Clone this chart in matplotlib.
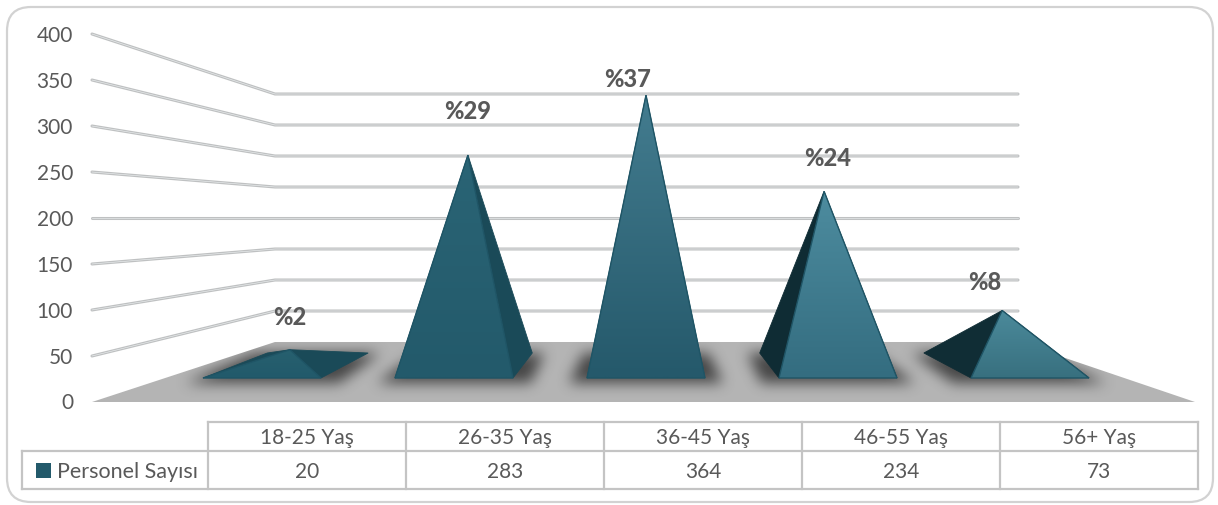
import numpy as np
import matplotlib
matplotlib.use('Agg')
import matplotlib.pyplot as plt
from matplotlib.colors import to_rgb
from matplotlib.patches import FancyBboxPatch, Polygon, Rectangle
from matplotlib.path import Path

# Chart data
categories = ['18-25 Yaş', '26-35 Yaş', '36-45 Yaş', '46-55 Yaş', '56+ Yaş']
personel = [20, 283, 364, 234, 73]
percent_labels = ['%2', '%29', '%37', '%24', '%8']
y_ticks = [0, 50, 100, 150, 200, 250, 300, 350, 400]
series_name = 'Personel Sayısı'

# Layout, in pixels of the 1218x506 picture
W, H = 1218, 506
center_x = 646
front_y = lambda v: 403 - v * 0.92      # left end of the gridlines
back_y = lambda v: 343 - v * 0.62       # back wall
apex_y = lambda v: 365.5 - v * 0.74     # pyramid tips stand mid-depth
base_front, base_back = 379, 354
shrink = 0.145                          # perspective shrink at base_back
half_base = 59
col_edges = [208, 406, 604, 802, 1000, 1198]
label_offset = [(0, -33), (0, -45), (-18, -17), (4, -34), (-17, -29)]

# face colours per pyramid: top, bottom, side
front_top = ['#27606f', '#2a6475', '#437c8f', '#4d8c9f', '#4b8a9b']
front_bottom = ['#225a6b', '#235a6b', '#25596b', '#346d80', '#38707f']
side_dark = ['#1a4a58', '#1a4a58', '#1a4a58', '#0f2c34', '#102d35']

text_col = '#595959'
font = 'Lato'

fig = plt.figure(figsize=(W / 100, H / 100), dpi=100)
ax = fig.add_axes([0, 0, 1, 1])


def persp(x, depth):
    return center_x + (x - center_x) * (1 - shrink * depth)


def gradient_poly(pts, top, bottom, zorder):
    pts = np.array(pts)
    ramp = np.linspace(0, 1, 64)[:, None, None]
    img = (1 - ramp) * np.array(to_rgb(top)) + ramp * np.array(to_rgb(bottom))
    x0, x1 = pts[:, 0].min(), pts[:, 0].max()
    y0, y1 = pts[:, 1].min(), pts[:, 1].max()
    im = ax.imshow(img, extent=(x0, x1, y1, y0), aspect='auto', zorder=zorder,
                   interpolation='bilinear')
    im.set_clip_path(Polygon(pts, closed=True, transform=ax.transData))


def blur(a, r):
    k = np.ones(r) / r
    for _ in range(3):
        a = np.apply_along_axis(lambda m: np.convolve(m, k, mode='same'), 0, a)
        a = np.apply_along_axis(lambda m: np.convolve(m, k, mode='same'), 1, a)
    return a


# outer card
ax.add_patch(FancyBboxPatch((7, 8), 1206, 495,
                            boxstyle='round,pad=0,rounding_size=24',
                            fc='white', ec='#d2d2d2', lw=1.6, zorder=0))

# gridlines
for v in y_ticks[1:]:
    ax.plot([92, 275, 1018], [front_y(v), back_y(v), back_y(v)], color='#bfc1c2',
            lw=2.2, solid_capstyle='round', solid_joinstyle='round', zorder=1)
    ax.plot([92, 275, 1018], [front_y(v), back_y(v), back_y(v)], color='#eef2f3',
            lw=0.4, zorder=1.1)

# floor
floor = [(92, front_y(0)), (275, back_y(0)), (1018, back_y(0)), (1195, front_y(0))]
ax.add_patch(Polygon(floor, closed=True, fc='#b4b4b4', ec='none', zorder=2))

# soft shadows of the pyramid bases on the floor
xx, yy = np.meshgrid(np.arange(W) + 0.5, np.arange(H) + 0.5)
grid_pts = np.column_stack([xx.ravel(), yy.ravel()])
shadow = np.zeros((H, W))
for i in range(len(categories)):
    cx = center_x + (i - 2) * 192
    xl, xr = cx - half_base, cx + half_base
    quad = [(xl - 18, base_front + 5), (xr + 18, base_front + 5),
            (persp(xr, 1) + 12, base_back), (persp(xl, 1) - 12, base_back)]
    shadow += Path(quad).contains_points(grid_pts).reshape(H, W)
shadow = blur(np.clip(shadow, 0, 1), 13) * 0.8
rgba = np.zeros((H, W, 4))
rgba[..., :3] = to_rgb('#2b2b2b')
rgba[..., 3] = shadow
sh = ax.imshow(rgba, extent=(0, W, H, 0), aspect='auto', zorder=3, interpolation='bilinear')
sh.set_clip_path(Polygon(floor, closed=True, transform=ax.transData))

# pyramids
for i, v in enumerate(personel):
    cx = center_x + (i - 2) * 192
    xl, xr = cx - half_base, cx + half_base
    tip = (persp(cx, 0.5), apex_y(v))
    fl, fr = (xl, base_front), (xr, base_front)
    bl, br = (persp(xl, 1), base_back), (persp(xr, 1), base_back)
    ax.add_patch(Polygon([fl, bl, tip], closed=True, fc=side_dark[i], ec=side_dark[i],
                         lw=0.6, zorder=4))
    ax.add_patch(Polygon([fr, br, tip], closed=True, fc=side_dark[i], ec=side_dark[i],
                         lw=0.6, zorder=4))
    gradient_poly([fl, fr, tip], front_top[i], front_bottom[i], 5)
    ax.add_patch(Polygon([fl, fr, tip], closed=True, fc='none', ec='#1f5566',
                         lw=1.0, zorder=6))
    dx, dy = label_offset[i]
    ax.text(tip[0] + dx, tip[1] + dy, percent_labels[i], ha='center', va='center',
            fontsize=17, fontweight='black', color=text_col, family=font, zorder=7)

# y axis labels
for v in y_ticks:
    ax.text(73, front_y(v) + 0.5, str(v), ha='right', va='center', fontsize=15,
            color=text_col, family=font, zorder=7)

# data table
line = dict(color='#c4c4c4', lw=1.6, zorder=6, solid_capstyle='projecting')
ax.plot([col_edges[0], col_edges[-1]], [423, 423], **line)
ax.plot([22, col_edges[-1]], [452, 452], **line)
ax.plot([22, col_edges[-1]], [490, 490], **line)
ax.plot([22, 22], [452, 490], **line)
for x in col_edges:
    ax.plot([x, x], [423, 490], **line)
for i, name in enumerate(categories):
    mid = (col_edges[i] + col_edges[i + 1]) / 2
    ax.text(mid, 438, name, ha='center', va='center', fontsize=15, color=text_col,
            family=font)
    ax.text(mid, 472, str(personel[i]), ha='center', va='center', fontsize=15,
            color=text_col, family=font)
ax.add_patch(Rectangle((36, 464), 15, 15, fc='#235a6b', ec='none', zorder=7))
ax.text(57, 472, series_name, ha='left', va='center', fontsize=15.5, color=text_col,
        family=font)

ax.set_xlim(0, W)
ax.set_ylim(H, 0)
ax.axis('off')
fig.savefig('out.png', dpi=100, facecolor='white')
